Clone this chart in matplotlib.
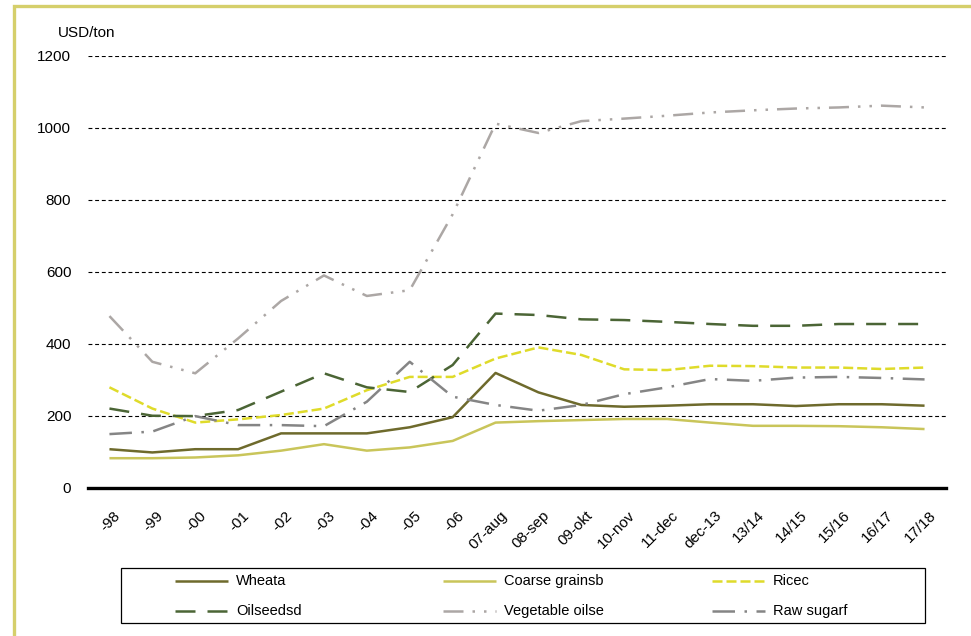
import matplotlib
matplotlib.use("Agg")
import matplotlib.pyplot as plt
from matplotlib.lines import Line2D
from matplotlib.patches import Rectangle

categories = ["-98", "-99", "-00", "-01", "-02", "-03", "-04", "-05", "-06",
              "07-aug", "08-sep", "09-okt", "10-nov", "11-dec", "dec-13",
              "13/14", "14/15", "15/16", "16/17", "17/18"]

wheat = [107, 98, 107, 107, 151, 151, 151, 168, 196, 319,
         265, 230, 225, 228, 232, 232, 227, 232, 232, 228]
coarse_grains = [82, 82, 84, 90, 103, 121, 103, 112, 130, 181,
                 185, 188, 191, 191, 181, 172, 172, 171, 168, 163]
rice = [279, 220, 181, 190, 202, 220, 271, 308, 308, 359,
        390, 369, 329, 327, 339, 338, 334, 334, 330, 334]
oilseeds = [220, 200, 199, 216, 267, 318, 279, 266, 341, 484,
            480, 468, 466, 461, 455, 450, 450, 455, 455, 455]
vegetable_oils = [477, 350, 318, 415, 519, 590, 533, 549, 760, 1012,
                  986, 1019, 1026, 1034, 1043, 1049, 1054, 1057, 1062, 1057]
raw_sugar = [149, 156, 199, 174, 174, 171, 239, 350, 253, 230,
             214, 230, 260, 279, 302, 297, 306, 308, 305, 301]

series_labels = ["Wheata", "Coarse grainsb", "Ricec",
                 "Oilseedsd", "Vegetable oilse", "Raw sugarf"]
y_ticks = [0, 200, 400, 600, 800, 1000, 1200]

W, H, DPI = 971, 636, 100
FONT = ["Liberation Sans", "DejaVu Sans"]
plt.rcParams["font.family"] = FONT

LW = 1.8
styles = [
    dict(color="#6e6a2c", lw=LW, ls="-"),
    dict(color="#c9c55a", lw=LW, ls="-"),
    dict(color="#dfdb2a", lw=LW, ls=(0, (4.0, 1.6))),
    dict(color="#4b6535", lw=LW, ls=(0, (8.0, 4.8))),
    dict(color="#aca7a5", lw=LW, ls=(0, (8.0, 3.6, 1.0, 3.6, 1.0, 3.6))),
    dict(color="#858585", lw=LW, ls=(0, (9.0, 3.8, 1.0, 3.8))),
]
data = [wheat, coarse_grains, rice, oilseeds, vegetable_oils, raw_sugar]


def fx(px):
    return px / W


def fy(py):
    return 1 - py / H


fig = plt.figure(figsize=(W / DPI, H / DPI), dpi=DPI)
fig.patch.set_facecolor("white")

# plotting area
ax = fig.add_axes([fx(88), fy(487.7), fx(946) - fx(88), fy(56) - fy(487.7)])
x = list(range(len(categories)))

for vals, st in zip(data, styles):
    ax.plot(x, vals, color=st["color"], lw=st["lw"], linestyle=st["ls"],
            solid_capstyle="butt", dash_capstyle="butt", zorder=3)

ax.set_xlim(-0.5, len(categories) - 0.5)
ax.set_ylim(0, 1200)
ax.set_yticks(y_ticks)
ax.set_yticklabels([str(v) for v in y_ticks], fontsize=11)
ax.tick_params(axis="y", length=0, pad=12)
ax.set_xticks(x)
ax.set_xticklabels([])
ax.tick_params(axis="x", length=0)

for v in y_ticks[1:]:
    ax.axhline(v, color="black", lw=0.8, linestyle=(0, (3.5, 2.5)), zorder=1)

for side in ["left", "right", "top"]:
    ax.spines[side].set_visible(False)
ax.spines["bottom"].set_linewidth(2.4)
ax.spines["bottom"].set_color("black")
ax.spines["bottom"].set_zorder(4)

# rotated category labels
for xi, lab in zip(x, categories):
    ax.annotate(lab, xy=(xi, 0), xycoords=("data", "axes fraction"),
                xytext=(3, -15), textcoords="offset points",
                rotation=45, ha="right", va="top", rotation_mode="anchor",
                fontsize=11)

fig.text(fx(58), fy(33), "USD/ton", fontsize=11, ha="left", va="center")

# legend box
fig.add_artist(Rectangle((fx(121), fy(623)), fx(925) - fx(121), fy(568) - fy(623),
                         transform=fig.transFigure, fill=False,
                         edgecolor="black", lw=0.9))
col_x = [175, 443, 712]
row_y = [581, 611]
for k, (lab, st) in enumerate(zip(series_labels, styles)):
    r, c = divmod(k, 3)
    x0 = col_x[c]
    fig.add_artist(Line2D([fx(x0), fx(x0 + 53)], [fy(row_y[r])] * 2,
                          transform=fig.transFigure, color=st["color"],
                          lw=st["lw"], linestyle=st["ls"],
                          solid_capstyle="butt", dash_capstyle="butt"))
    fig.text(fx(x0 + 61), fy(row_y[r]), lab, fontsize=10.5,
             ha="left", va="center")

# outer frame
fig.add_artist(Rectangle((fx(13.5), -0.05), 1.2, fy(5.5) + 0.05,
                         transform=fig.transFigure, fill=False,
                         edgecolor="#d5cf6b", lw=2.4, clip_on=False))

fig.savefig("out.png", dpi=DPI, facecolor="white")
